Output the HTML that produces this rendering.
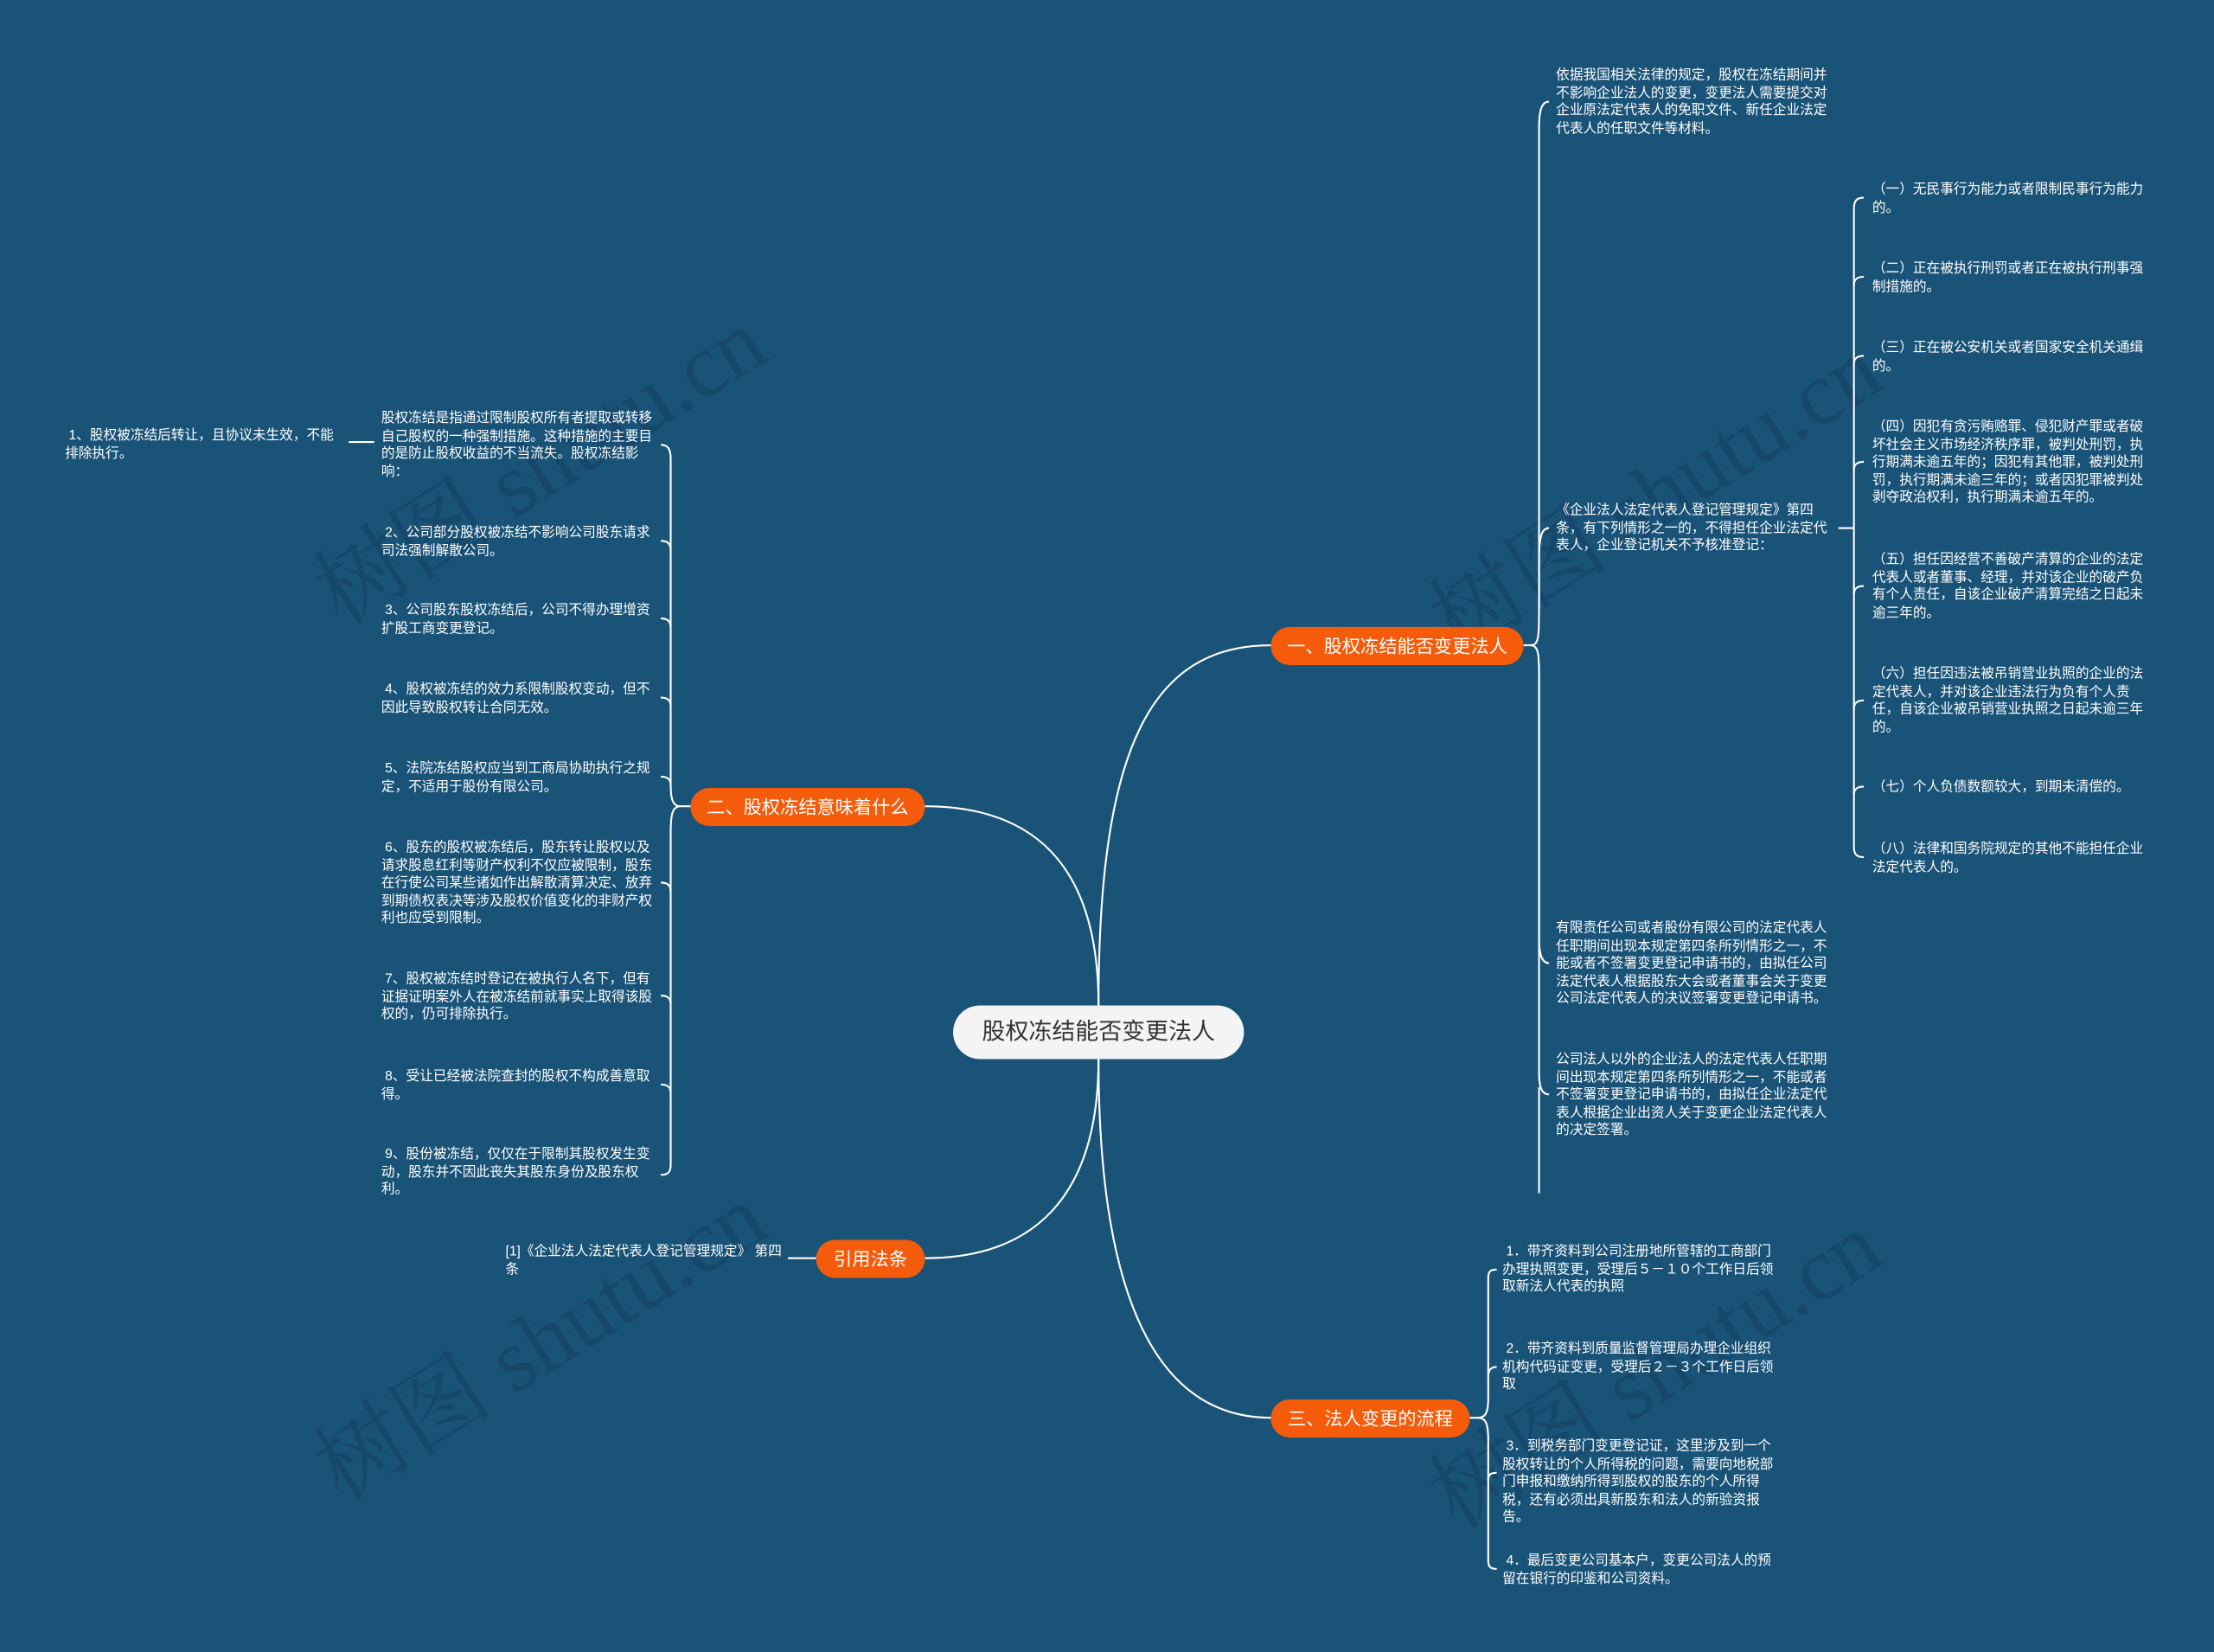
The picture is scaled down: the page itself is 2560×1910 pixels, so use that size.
<!DOCTYPE html>
<html><head><meta charset="utf-8">
<style>
html,body{margin:0;padding:0;background:#1a5378;}
#wrap{position:relative;width:1568px;height:1170px;transform:scale(1.63265);transform-origin:0 0;overflow:hidden;font-family:"Liberation Sans","Noto Sans CJK SC",sans-serif;}
.t{position:absolute;color:#fff;font-size:9.6px;line-height:12.6px;width:197px;}
.n{position:absolute;background:#f45b0b;color:#fff;font-size:13px;border-radius:14px;text-align:center;line-height:27px;height:27px;}
.c{position:absolute;left:675px;top:712px;width:206px;height:38px;background:#f4f4f4;color:#333;border-radius:19px;font-size:16.5px;line-height:38px;text-align:center;}
.wm{position:absolute;color:rgba(10,40,70,0.25);font-size:64px;font-family:"Liberation Serif","Noto Serif CJK SC",serif;transform:rotate(-32deg);white-space:nowrap;}
svg{position:absolute;left:0;top:0}
</style></head><body><div id="wrap">
<div class="wm" style="left:200px;top:280px">树图 shutu.cn</div>
<div class="wm" style="left:990px;top:300px">树图 shutu.cn</div>
<div class="wm" style="left:200px;top:900px">树图 shutu.cn</div>
<div class="wm" style="left:990px;top:920px">树图 shutu.cn</div>
<svg width="1568" height="1170" fill="none" stroke="#fff" stroke-width="1.3">
<path d="M778,712 C778,530 815,457 900,457"/>
<path d="M778,712 C778,610 730,571 655,571"/>
<path d="M778,750 C778,850 730,891 655,891"/>
<path d="M778,750 C778,940 830,1004 900,1004"/>
<g>
<path d="M1079,457 L1084,457 C1090,457 1090,450 1090,430 L1090,90 C1090,78 1092,72 1097,72"/>
<path d="M1090,430 L1090,395 C1090,380 1092,374 1097,374"/>
<path d="M1090,470 L1090,665 C1090,676 1092,682 1097,682"/>
<path d="M1084,457 C1090,457 1090,465 1090,480 L1090,760 C1090,770 1092,775 1097,775 M1090,770 L1090,845"/>
</g>
<g>
<path d="M1302,374 L1313,374"/>
<path d="M1313,148 C1313,142 1315,140 1320,140 M1313,148 L1313,600 C1313,605 1315,607 1320,607"/>
<path d="M1313,202 C1313,198 1315,196 1320,196 M1313,258 C1313,254 1315,252 1320,252 M1313,333 C1313,329 1315,327 1320,327 M1313,421 C1313,417 1315,415 1320,415 M1313,502 C1313,498 1315,496 1320,496 M1313,563 C1313,559 1315,557 1320,557"/>
</g>
<g>
<path d="M489,571 L482,571 C476,571 475,565 475,555 L475,325 C475,318 473,315 468,315"/>
<path d="M482,571 C476,571 475,577 475,590 L475,825 C475,830 473,832 468,832"/>
<path d="M475,390 C475,385 473,383 468,383 M475,445 C475,440 473,438 468,438 M475,500 C475,496 473,494 468,494 M475,556 C475,552 473,550 468,550 M475,632 C475,627 473,625 468,625 M475,711 C475,707 473,705 468,705 M475,774 C475,770 473,768 468,768"/>
<path d="M247,313 L265,313"/>
<path d="M558,891 L578,891"/>
</g>
<g>
<path d="M1041,1004 L1047,1004 C1053,1004 1054,998 1054,990 L1054,905 C1054,900 1056,899 1060,899"/>
<path d="M1047,1004 C1053,1004 1054,1010 1054,1020 L1054,1105 C1054,1110 1056,1111 1060,1111"/>
<path d="M1054,975 C1054,970 1056,968 1060,968 M1054,1048 C1054,1044 1056,1043 1060,1043"/>
</g>
</svg>
<div class="c">股权冻结能否变更法人</div>
<div class="n" style="left:900px;top:444px;width:179px">一、股权冻结能否变更法人</div>
<div class="n" style="left:489px;top:558px;width:166px">二、股权冻结意味着什么</div>
<div class="n" style="left:578px;top:878px;width:77px">引用法条</div>
<div class="n" style="left:900px;top:991px;width:141px">三、法人变更的流程</div>

<div class="t" style="left:1102px;top:48px">依据我国相关法律的规定，股权在冻结期间并不影响企业法人的变更，变更法人需要提交对企业原法定代表人的免职文件、新任企业法定代表人的任职文件等材料。</div>
<div class="t" style="left:1102px;top:356px">《企业法人法定代表人登记管理规定》第四条，有下列情形之一的，不得担任企业法定代表人，企业登记机关不予核准登记：</div>
<div class="t" style="left:1102px;top:652px">有限责任公司或者股份有限公司的法定代表人任职期间出现本规定第四条所列情形之一，不能或者不签署变更登记申请书的，由拟任公司法定代表人根据股东大会或者董事会关于变更公司法定代表人的决议签署变更登记申请书。</div>
<div class="t" style="left:1102px;top:745px">公司法人以外的企业法人的法定代表人任职期间出现本规定第四条所列情形之一，不能或者不签署变更登记申请书的，由拟任企业法定代表人根据企业出资人关于变更企业法定代表人的决定签署。</div>

<div class="t" style="left:1326px;top:129px">（一）无民事行为能力或者限制民事行为能力的。</div>
<div class="t" style="left:1326px;top:185px">（二）正在被执行刑罚或者正在被执行刑事强制措施的。</div>
<div class="t" style="left:1326px;top:241px">（三）正在被公安机关或者国家安全机关通缉的。</div>
<div class="t" style="left:1326px;top:297px">（四）因犯有贪污贿赂罪、侵犯财产罪或者破坏社会主义市场经济秩序罪，被判处刑罚，执行期满未逾五年的；因犯有其他罪，被判处刑罚，执行期满未逾三年的；或者因犯罪被判处剥夺政治权利，执行期满未逾五年的。</div>
<div class="t" style="left:1326px;top:391px">（五）担任因经营不善破产清算的企业的法定代表人或者董事、经理，并对该企业的破产负有个人责任，自该企业破产清算完结之日起未逾三年的。</div>
<div class="t" style="left:1326px;top:472px">（六）担任因违法被吊销营业执照的企业的法定代表人，并对该企业违法行为负有个人责任，自该企业被吊销营业执照之日起未逾三年的。</div>
<div class="t" style="left:1326px;top:552px">（七）个人负债数额较大，到期未清偿的。</div>
<div class="t" style="left:1326px;top:596px">（八）法律和国务院规定的其他不能担任企业法定代表人的。</div>

<div class="t" style="left:270px;top:291px">股权冻结是指通过限制股权所有者提取或转移自己股权的一种强制措施。这种措施的主要目的是防止股权收益的不当流失。股权冻结影响：</div>
<div class="t" style="left:46px;top:303px">&nbsp;1、股权被冻结后转让，且协议未生效，不能排除执行。</div>
<div class="t" style="left:270px;top:372px">&nbsp;2、公司部分股权被冻结不影响公司股东请求司法强制解散公司。</div>
<div class="t" style="left:270px;top:427px">&nbsp;3、公司股东股权冻结后，公司不得办理增资扩股工商变更登记。</div>
<div class="t" style="left:270px;top:483px">&nbsp;4、股权被冻结的效力系限制股权变动，但不因此导致股权转让合同无效。</div>
<div class="t" style="left:270px;top:539px">&nbsp;5、法院冻结股权应当到工商局协助执行之规定，不适用于股份有限公司。</div>
<div class="t" style="left:270px;top:595px">&nbsp;6、股东的股权被冻结后，股东转让股权以及请求股息红利等财产权利不仅应被限制，股东在行使公司某些诸如作出解散清算决定、放弃到期债权表决等涉及股权价值变化的非财产权利也应受到限制。</div>
<div class="t" style="left:270px;top:688px">&nbsp;7、股权被冻结时登记在被执行人名下，但有证据证明案外人在被冻结前就事实上取得该股权的，仍可排除执行。</div>
<div class="t" style="left:270px;top:757px">&nbsp;8、受让已经被法院查封的股权不构成善意取得。</div>
<div class="t" style="left:270px;top:812px">&nbsp;9、股份被冻结，仅仅在于限制其股权发生变动，股东并不因此丧失其股东身份及股东权利。</div>

<div class="t" style="left:358px;top:881px">[1]《企业法人法定代表人登记管理规定》 第四条</div>

<div class="t" style="left:1064px;top:881px">&nbsp;1．带齐资料到公司注册地所管辖的工商部门办理执照变更，受理后５－１０个工作日后领取新法人代表的执照</div>
<div class="t" style="left:1064px;top:950px">&nbsp;2．带齐资料到质量监督管理局办理企业组织机构代码证变更，受理后２－３个工作日后领取</div>
<div class="t" style="left:1064px;top:1019px">&nbsp;3．到税务部门变更登记证，这里涉及到一个股权转让的个人所得税的问题，需要向地税部门申报和缴纳所得到股权的股东的个人所得税，还有必须出具新股东和法人的新验资报告。</div>
<div class="t" style="left:1064px;top:1100px">&nbsp;4．最后变更公司基本户，变更公司法人的预留在银行的印鉴和公司资料。</div>
</div></body></html>
